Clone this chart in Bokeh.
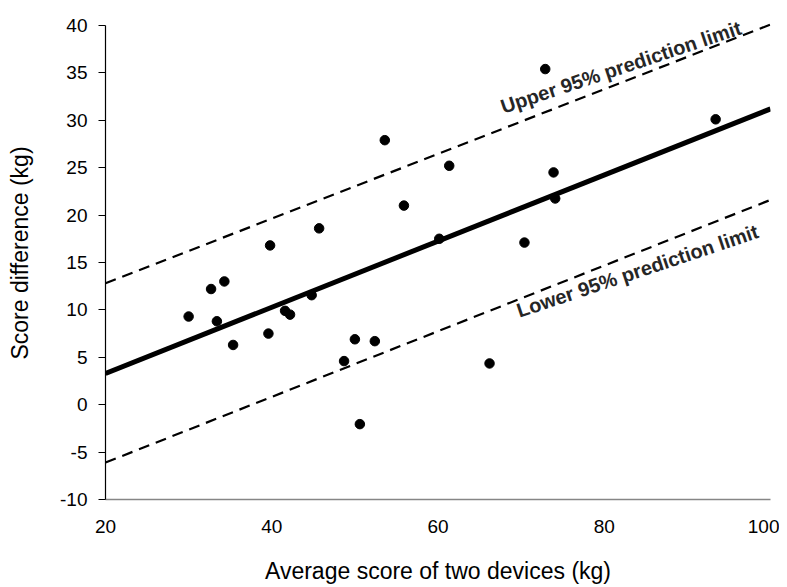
from bokeh.plotting import figure
from bokeh.models import Range1d, FixedTicker, Label, ColumnDataSource
from bokeh.embed import file_html
from bokeh.resources import INLINE

# Data
avg_score = [30.0, 32.7, 34.3, 33.4, 35.35, 39.6, 39.8, 41.6, 42.2, 44.8, 45.7,
             53.6, 48.7, 50.0, 50.6, 52.4, 61.35, 55.9, 60.15, 72.9, 73.9, 74.1,
             70.4, 93.4, 66.2]
score_diff = [9.3, 12.2, 13.0, 8.8, 6.3, 7.5, 16.8, 9.9, 9.5, 11.55, 18.6,
              27.9, 4.6, 6.9, -2.05, 6.7, 25.2, 21.0, 17.5, 35.4, 24.5, 21.75,
              17.1, 30.1, 4.35]

line_x = [20, 100]
reg_y = [3.3, 31.2]
upper_y = [12.8, 40.1]
lower_y = [-6.1, 21.6]

x_ticks = [20, 40, 60, 80, 100]
y_ticks = [-10, -5, 0, 5, 10, 15, 20, 25, 30, 35, 40]

upper_label = "Upper 95% prediction limit"
lower_label = "Lower 95% prediction limit"
upper_pos = (82.0, 35.6)
lower_pos = (84.0, 14.1)

FONT = "Liberation Sans"

p = figure(width=779, height=583, output_backend="svg", toolbar_location=None,
           x_range=Range1d(20, 100), y_range=Range1d(-10, 42),
           frame_width=665, frame_height=493,
           min_border_left=105, min_border_top=6, min_border_right=9, min_border_bottom=84)
p.outline_line_color = None
p.xgrid.visible = False
p.ygrid.visible = False
p.background_fill_color = "white"
p.border_fill_color = "white"

src = ColumnDataSource(dict(x=avg_score, y=score_diff))
lsrc = ColumnDataSource(dict(x=line_x, reg=reg_y, up=upper_y, lo=lower_y))

p.line("x", "up", source=lsrc, line_color="black", line_width=2.2, line_dash="11 7")
p.line("x", "lo", source=lsrc, line_color="black", line_width=2.2, line_dash="11 7")
p.line("x", "reg", source=lsrc, line_color="black", line_width=5)
p.scatter("x", "y", source=src, size=9.5, fill_color="black", line_color="black")

for txt, pos in ((upper_label, upper_pos), (lower_label, lower_pos)):
    p.add_layout(Label(x=pos[0], y=pos[1], text=txt, angle=18.5, angle_units="deg",
                       text_align="center", text_baseline="middle",
                       text_font=FONT, text_font_style="bold", text_font_size="20px",
                       text_color="#262626"))

xa = p.xaxis[0]
xa.ticker = FixedTicker(ticks=x_ticks)
xa.major_tick_out = 0
xa.major_tick_in = 0
xa.minor_tick_out = 0
xa.minor_tick_in = 0
xa.axis_line_color = "#868686"
xa.axis_line_width = 1.5
xa.major_label_text_font = FONT
xa.major_label_text_font_size = "19px"
xa.major_label_text_color = "black"
xa.major_label_standoff = 20
xa.axis_label = "Average score of two devices (kg)"
xa.axis_label_text_font = FONT
xa.axis_label_text_font_size = "23px"
xa.axis_label_text_font_style = "normal"
xa.axis_label_text_color = "black"
xa.axis_label_standoff = 22

ya = p.yaxis[0]
ya.ticker = FixedTicker(ticks=y_ticks)
ya.bounds = (-10, 40)
ya.major_label_overrides = {t: str(t) for t in y_ticks}
ya.major_tick_out = 7
ya.major_tick_in = 0
ya.minor_tick_out = 0
ya.minor_tick_in = 0
ya.axis_line_color = "black"
ya.axis_line_width = 1.2
ya.major_tick_line_color = "black"
ya.major_label_text_font = FONT
ya.major_label_text_font_size = "19px"
ya.major_label_text_color = "black"
ya.major_label_standoff = 11
ya.axis_label = "Score difference (kg)"
ya.axis_label_text_font = FONT
ya.axis_label_text_font_size = "23px"
ya.axis_label_text_font_style = "normal"
ya.axis_label_text_color = "black"
ya.axis_label_standoff = 24

open("out.html", "w").write(file_html(p, INLINE))
